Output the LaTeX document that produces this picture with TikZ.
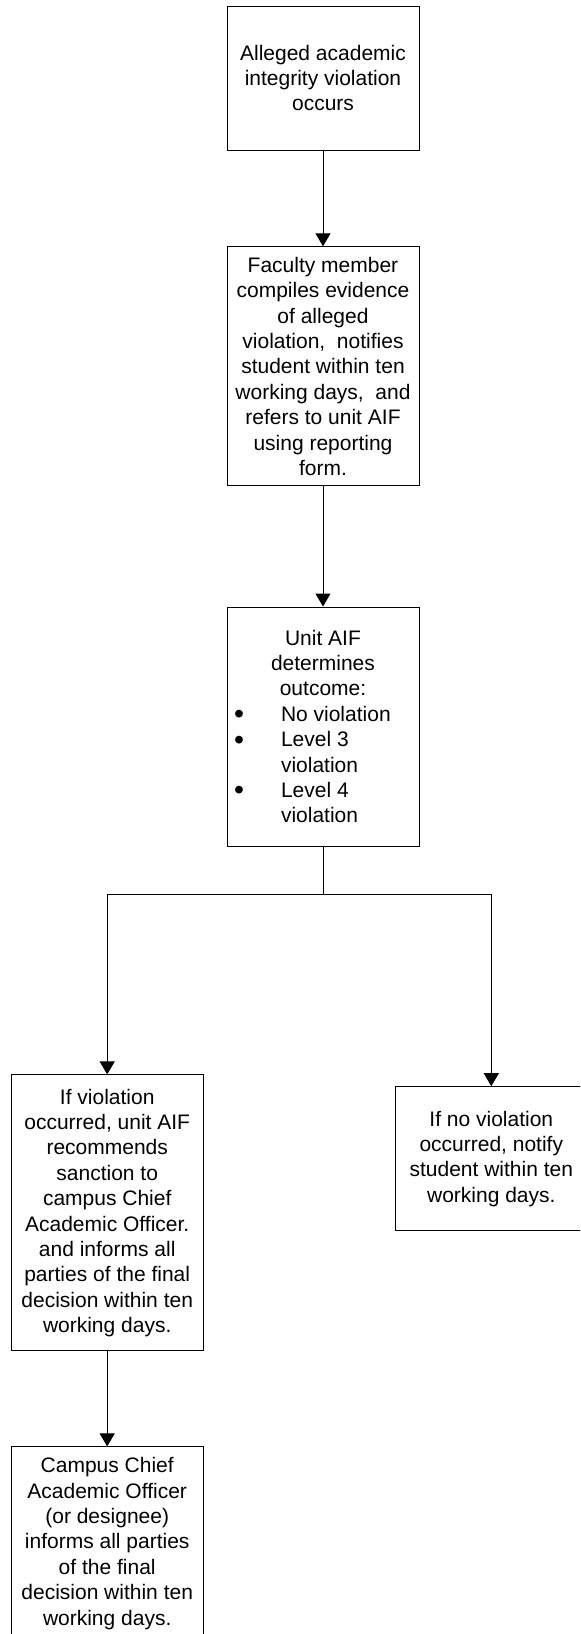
\documentclass[tikz,border=0pt]{standalone}
\usepackage{fontspec}
\usepackage{graphicx}
\setmainfont{Liberation Sans}
\usetikzlibrary{arrows.meta}

\newcommand{\bulletline}[1]{\makebox[89pt][l]{\makebox[23.5pt][l]{\raisebox{-1.2pt}{\scalebox{1.35}{\textbullet}}}#1}}
\newcommand{\moreline}[1]{\makebox[89pt][l]{\hspace{23.5pt}#1}}

\begin{document}
\begin{tikzpicture}[x=0.5pt, y=-0.5pt]
      \tikzset{stage/.style={draw, line width=0.5pt, align=center, inner sep=0pt, minimum width=96pt,
               font=\fontsize{10.5}{12.7}\selectfont},
               flow/.style={line width=0.5pt, -{Triangle[width=7.5pt, length=6.5pt]}}}

      \useasboundingbox (0,0) rectangle (580,1634);
      \clip (0,0) rectangle (580,1634);

      \node[stage, minimum height=72pt] (occurs) at (323,78) {Alleged academic\\integrity violation\\occurs};
      \node[stage, minimum height=119.5pt] (faculty) at (323,366.3) {Faculty member\\compiles evidence\\of alleged\\violation,~ notifies\\student within ten\\working days,~ and\\refers to unit AIF\\using reporting\\form.};
      \node[stage, minimum height=119.5pt] (unit) at (323,726.5) {Unit AIF\\determines\\outcome:\\\bulletline{No violation}\\\bulletline{Level 3}\\\moreline{violation}\\\bulletline{Level 4}\\\moreline{violation}};
      \coordinate (split) at (323,894.3);
      \node[stage, minimum height=138pt] (violation) at (107.2,1212.9) {If violation\\occurred, unit AIF\\recommends\\sanction to\\campus Chief\\Academic Officer.\\and informs all\\parties of the final\\decision within ten\\working days.};
      \node[stage, minimum height=72pt] (noviolation) at (491.3,1158.7) {If no violation\\occurred, notify\\student within ten\\working days.};
      \node[stage, minimum height=96.5pt] (chief) at (107.2,1543.4) {Campus Chief\\Academic Officer\\(or designee)\\informs all parties\\of the final\\decision within ten\\working days.};

      \draw[flow] (occurs) -- (faculty);
      \draw[flow] (faculty) -- (unit);
      \draw[line width=0.5pt] (unit) -- (split);
      \draw[flow] (split) -| (violation);
      \draw[flow] (split) -| (noviolation);
      \draw[flow] (violation) -- (chief);
\end{tikzpicture}
\end{document}
